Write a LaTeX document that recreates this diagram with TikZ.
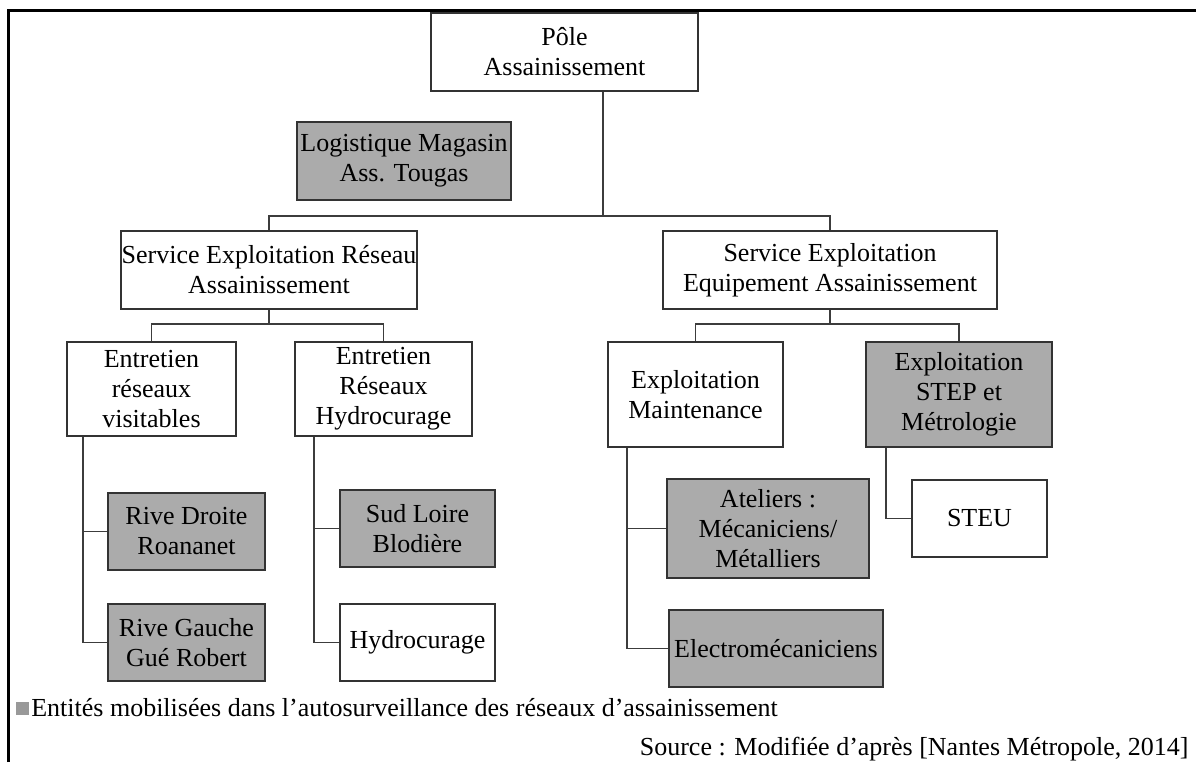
\documentclass[tikz,border=0pt]{standalone}
\usepackage{fontspec}
\setmainfont{Liberation Serif}
\usetikzlibrary{positioning}
\pgfdeclarelayer{bg}
\pgfsetlayers{bg,main}
\definecolor{boxline}{HTML}{333333}
\definecolor{mobilgray}{HTML}{ABABAB}
\definecolor{legendgray}{HTML}{999999}
\definecolor{linkgray}{HTML}{3C3C3C}
\tikzset{
    every node/.style={font=\fontsize{13}{15}\selectfont},
    unit/.style={rectangle, draw=boxline, line width=1pt, align=center,
    	inner sep=0pt},
    mobil/.style={unit, fill=mobilgray},
    dims/.style 2 args={minimum width=#1pt, minimum height=#2pt},
    link/.style={draw=linkgray, line width=.75pt}
}

\begin{document}
\begin{tikzpicture}[x=0.5pt, y=-0.5pt]
  \useasboundingbox (0,0) rectangle (1196,762);
  \draw[line width=1.5pt] (8,762) -- (8,10) -- (1196,10);

  \node (pole) [unit, dims={133.5}{39}] at (564.5,52) {Pôle\\Assainissement};
  \node (logi) [mobil, dims={107}{39}] at (404,161) {Logistique Magasin\\Ass. Tougas};
  \node (sera) [unit, dims={148}{39}] at (269,270) {Service Exploitation Réseau\\Assainissement};
  \node (seeq) [unit, dims={167}{39}] at (830,270) {Service Exploitation\\Equipement Assainissement};

  \node (erv) [unit, dims={84.5}{47}] at (151.5,389) {Entretien\\réseaux\\visitables};
  \node (erh) [unit, dims={88.5}{47}] at (383.5,389) {Entretien\\Réseaux\\Hydrocurage};
  \node (expm) [unit, dims={87.5}{52.5}] at (695.5,394.5) {Exploitation\\Maintenance};
  \node (step) [mobil, dims={93}{52.5}] at (959,394.5) {Exploitation\\STEP et\\Métrologie};

  \node (rd) [mobil, dims={78.5}{38.5}] at (186.5,531.5) {Rive Droite\\Roananet};
  \node (rg) [mobil, dims={78.5}{38.5}] at (186.5,642.5) {Rive Gauche\\Gué Robert};
  \node (sud) [mobil, dims={77.5}{38.5}] at (417.5,528.5) {Sud Loire\\Blodière};
  \node (hyd) [unit, dims={77.5}{38.5}] at (417.5,642.5) {Hydrocurage};
  \node (atel) [mobil, dims={101}{49.5}] at (768,528.5) {Ateliers :\\Mécaniciens/\\Métalliers};
  \node (elec) [mobil, dims={107}{38.5}] at (776,648.5) {Electromécaniciens};
  \node (steu) [unit, dims={67.5}{38.5}] at (979.5,518.5) {STEU};

  \node (legsq) [fill=legendgray, minimum size=6.5pt, inner sep=0pt] at (22,708) {};
  \node (legtxt) [right=1pt of legsq, inner sep=0pt] {Entités mobilisées dans l’autosurveillance des réseaux d’assainissement};
  \node (source) [anchor=east, inner sep=0pt] at (1189,749) {Source : Modifiée d’après [Nantes Métropole, 2014]};

  \coordinate (b0) at (603,216);
  \coordinate (b1) at (269,324);
  \coordinate (b2) at (830,324);
  \coordinate (t1) at (83,436);
  \coordinate (t2) at (314,436);
  \coordinate (t3) at (627,447);
  \coordinate (t4) at (886,447);

  \begin{pgfonlayer}{bg}
	  \draw[link] (pole.south -| b0) -- (b0);
	  \draw[link] (sera.north) |- (b0) -| (seeq.north);
	  \draw[link] (sera.south) -- (b1); \draw[link] (erv.north) |- (b1) -| (erh.north);
	  \draw[link] (seeq.south) -- (b2); \draw[link] (expm.north) |- (b2) -| (step.north);
	  \draw[link] (t1) |- (rd.west); \draw[link] (t1) |- (rg.west);
	  \draw[link] (t2) |- (sud.west); \draw[link] (t2) |- (hyd.west);
	  \draw[link] (t3) |- (atel.west); \draw[link] (t3) |- (elec.west);
	  \draw[link] (t4) |- (steu.west);
  \end{pgfonlayer}

\end{tikzpicture}
\end{document}
